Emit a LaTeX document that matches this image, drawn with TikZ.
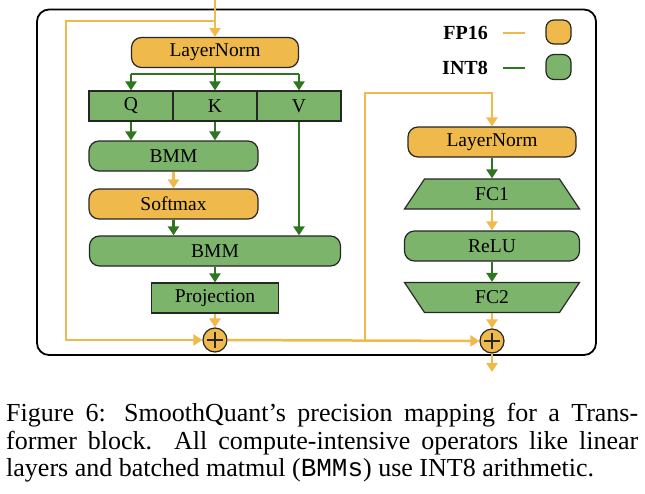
\documentclass[tikz,border=0pt]{standalone}
\usepackage{fontspec}
\setmainfont{Liberation Serif}
\setmonofont{Liberation Mono}
\usetikzlibrary{arrows.meta}
\definecolor{fporange}{RGB}{239,186,75}
\definecolor{intfill}{RGB}{124,180,108}
\definecolor{intdark}{RGB}{46,118,32}
\tikzset{
	opbox/.style={draw=black!85, line width=1.2pt, minimum height=30pt, inner sep=1pt, font=\fontsize{19.5}{22}\selectfont},
	fpbox/.style={opbox, fill=fporange, rounded corners=10pt},
	intbox/.style={opbox, fill=intfill, rounded corners=10pt},
	intrect/.style={opbox, fill=intfill},
	fcslot/.style={opbox, draw=none, minimum width=175pt},
	fcpoly/.style={draw=black!85, line width=1.2pt, fill=intfill, line join=miter},
	addop/.style={circle, draw=black!85, line width=1.2pt, fill=fporange, minimum size=24pt, inner sep=0pt,
		path picture={
			\draw[line width=1.3pt] ([xshift=-8pt]path picture bounding box.center) -- ([xshift=8pt]path picture bounding box.center);
			\draw[line width=1.3pt] ([yshift=-8pt]path picture bounding box.center) -- ([yshift=8pt]path picture bounding box.center);
		}},
	fpline/.style={draw=fporange, line width=2.5pt},
	intline/.style={draw=intdark, line width=2.5pt},
	fparrow/.style={fpline, -{Triangle[length=9pt,width=11pt]}},
	intarrow/.style={intline, -{Triangle[length=9pt,width=11pt]}},
	legend/.style={font=\fontsize{20}{24}\selectfont\bfseries, anchor=east, inner sep=0pt}
}

\begin{document}
\begin{tikzpicture}[x=1pt,y=-1pt]
	\useasboundingbox (0,0) rectangle (645,493);
	\draw[line width=1.8pt, rounded corners=12pt] (37,9.5) rectangle (596,355);

	% attention
	\node[fpbox, minimum width=167pt] (ln1) at (215,52.5) {LayerNorm};
	\foreach \n/\x in {Q/131,K/215,V/299}{
		\node[intrect, minimum width=84pt] (\n) at (\x,106) {\n};
	}
	\node[intbox, minimum width=169pt] (bmma) at (173.5,156) {BMM};
	\node[fpbox, minimum width=169pt] (soft) at (173.5,204) {Softmax};
	\node[intbox, minimum width=251pt] (bmmb) at (215,251) {BMM};
	\node[intrect, minimum width=127pt] (proj) at (215,298) {Projection};
	\node[addop] (adda) at (215,340) {};

	% feed forward
	\node[fpbox, minimum width=168pt] (ln2) at (492,142) {LayerNorm};
	\draw[fcpoly] (492,194) ++(-87.5,15) -- ++(20,-30) -- ++(135,0) -- ++(20,30) -- cycle;
	\node[fcslot] (fc1) at (492,194) {FC1};
	\node[intbox, minimum width=175pt] (relu) at (492,246) {ReLU};
	\draw[fcpoly] (492,297.5) ++(-87.5,-15) -- ++(20,30) -- ++(135,0) -- ++(20,-30) -- cycle;
	\node[fcslot] (fc2) at (492,297.5) {FC2};
	\node[addop] (addb) at (492,341) {};

	% legend
	\node[legend] (legfp) at (488,33) {FP16};
	\node[legend] (legint) at (488,68) {INT8};
	\draw[fpline, line width=2.2pt] ([xshift=15pt]legfp.east) -- ++(22,0);
	\draw[intline, line width=2.2pt] ([xshift=15pt]legint.east) -- ++(22,0);
	\node[fpbox, minimum width=25pt, minimum height=24pt, rounded corners=8pt] (legfpbox) at (558.5,32) {};
	\node[intbox, minimum width=25pt, minimum height=25pt, rounded corners=8pt] (legintbox) at (558.5,67) {};

	\coordinate (in) at (215,0);
	\coordinate (splita) at (215,21);
	\coordinate (fork) at (215,74);
	\coordinate (splitb) at (365,340);
	\coordinate (out) at (492,372);

	\draw[fparrow] (in) -- (ln1);
	\draw[fparrow] (splita) -- (66,21) |- (adda);
	\draw[intline] (ln1) -- (fork);
	\draw[intline] (Q.north |- fork) -- (V.north |- fork);
	\foreach \n in {Q,K,V}{
		\draw[intarrow] (\n.north |- fork) -- (\n.north);
	}
	\draw[intarrow] (Q) -- (Q |- bmma.north);
	\draw[intarrow] (K) -- (K |- bmma.north);
	\draw[fparrow] (bmma) -- (soft);
	\draw[intarrow] (soft) -- (soft |- bmmb.north);
	\draw[intarrow] (V) -- (V |- bmmb.north);
	\draw[intarrow] (bmmb) -- (proj);
	\draw[fparrow] (proj) -- (adda);
	\draw[fparrow] (adda) -- (addb);
	\draw[fparrow] (splitb) -- (365,93) -| (ln2);
	\draw[intarrow] (ln2) -- (fc1);
	\draw[fparrow] (fc1) -- (relu);
	\draw[intarrow] (relu) -- (fc2);
	\draw[fparrow] (fc2) -- (addb);
	\draw[fparrow] (addb) -- (out);

	% caption
	\node[anchor=north west, inner sep=0pt, text width=632pt, align=justify, font=\fontsize{26}{27.5}\selectfont] (caption) at (6,403)
		{\noindent Figure 6: SmoothQuant's precision mapping for a Trans-\linebreak former block. All compute-intensive operators like linear\linebreak layers and batched matmul (\texttt{BMMs}) use INT8 arithmetic.};
\end{tikzpicture}
\end{document}
